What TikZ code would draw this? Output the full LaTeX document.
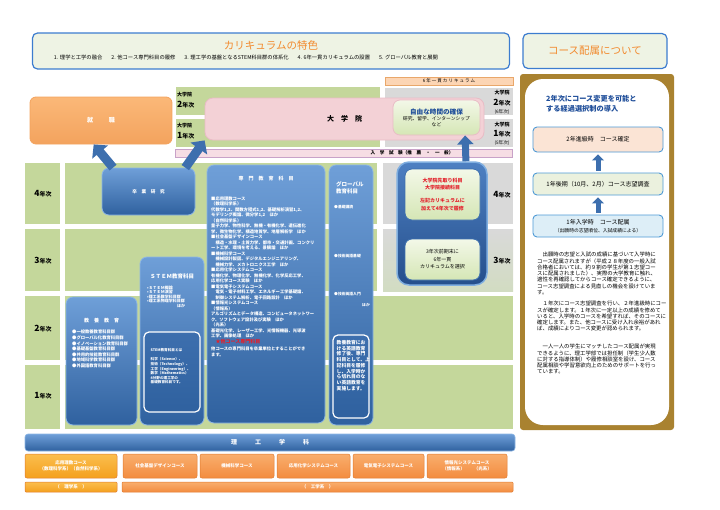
\documentclass[tikz,border=0pt]{standalone}
\usepackage{xcolor}
\usepackage{fontspec}
\setmainfont{Noto Sans CJK JP}
\usepackage{tikz}
\usetikzlibrary{shapes,arrows.meta,positioning}

\definecolor{azulA}{HTML}{6F9FD8}
\definecolor{azulB}{HTML}{2F619F}
\definecolor{azulL}{HTML}{8DB6E4}
\definecolor{azulT}{HTML}{1F4E9A}
\definecolor{azulF}{HTML}{3D6FAE}
\definecolor{verde}{HTML}{C4D79B}
\definecolor{gris}{HTML}{D9D9D9}
\definecolor{grisV}{HTML}{D2DCC2}
\definecolor{crema}{HTML}{EEF3E4}
\definecolor{borde}{HTML}{3C7CCF}
\definecolor{titulo}{HTML}{F28A2E}
\definecolor{marron}{HTML}{A98230}
\definecolor{rosa}{HTML}{F3D1D6}
\definecolor{rosaL}{HTML}{E9BCC6}
\definecolor{rosaC}{HTML}{F6DDE4}
\definecolor{lila}{HTML}{C8A2C8}
\definecolor{naranja}{HTML}{F38C3F}
\definecolor{naranjaA}{HTML}{F9AE6E}
\definecolor{naranjaD}{HTML}{E07A2E}
\definecolor{oroA}{HTML}{FBBE4E}
\definecolor{oro}{HTML}{F4A01E}
\definecolor{durazno}{HTML}{FBB878}
\definecolor{duraznoD}{HTML}{F3A35E}
\definecolor{barra}{HTML}{FCD5B4}
\definecolor{barraD}{HTML}{E9A76A}
\definecolor{verdeA}{HTML}{F3F8E8}
\definecolor{verdeB}{HTML}{D5E6B5}
\definecolor{melocoton}{HTML}{FBE4D5}
\definecolor{verdeC}{HTML}{EBF1DE}
\definecolor{celeste}{HTML}{DDEEF7}
\definecolor{pasoL}{HTML}{4E9AD6}
\definecolor{rojo}{HTML}{E3202B}
\definecolor{oscA}{HTML}{4E80C2}
\definecolor{oscB}{HTML}{254F8C}
\definecolor{oscL}{HTML}{7FAEE0}

\begin{document}
\begin{tikzpicture}[x=1pt, y=-1pt,
  every node/.style={inner sep=0pt, align=center, font=\fontsize{4.5}{5.5}\selectfont},
  caja/.style={rectangle, rounded corners=7pt, draw=azulL, line width=0.8pt,
      top color=azulA, bottom color=azulB, text=white},
  cajita/.style={rectangle, rounded corners=5pt, draw=white, line width=1.2pt,
      top color=azulF, bottom color=azulB, text=white},
  marco/.style={rectangle, rounded corners=5pt, draw=borde, line width=1.2pt, fill=crema},
  curso/.style={rectangle, rounded corners=2pt, draw=naranjaD, line width=0.5pt,
      top color=naranjaA, bottom color=naranja, text=white, font=\bfseries\fontsize{4.5}{5.5}\selectfont},
  paso/.style={rectangle, rounded corners=4pt, draw=pasoL, line width=0.9pt,
      minimum width=130pt, font=\fontsize{6}{7.5}\selectfont},
  interior/.style={rectangle, rounded corners=7pt, draw=azulF, line width=0.8pt,
      top color=verdeA, bottom color=verdeB, minimum width=75pt, font=\fontsize{5}{7.5}\selectfont},
  nivel/.style={font=\bfseries\fontsize{6}{7}\selectfont},
  blanco/.style={anchor=north west, align=left, text=white},
  flecha/.style={draw=azulF, line width=9pt, -{Triangle[width=20pt,length=10pt]}},
  flechaV/.style={draw=azulF, line width=7pt, -{Triangle[width=16pt,length=9pt]}},
  flechita/.style={draw=azulF, line width=5pt, -{Triangle[width=12pt,length=6pt]},
      shorten <=2pt, shorten >=2pt}
]
\useasboundingbox (0,0) rectangle (720,509);

% Fondo
\fill[verde] (25,163) rectangle (60,224);
\fill[verde] (25,229) rectangle (60,291);
\fill[verde] (25,296) rectangle (60,360);
\fill[verde] (25,365) rectangle (60,429);
\fill[verde] (65,163) rectangle (377,224);
\fill[verde] (65,229) rectangle (377,291);
\fill[verde] (65,296) rectangle (513,360);
\fill[verde] (65,365) rectangle (513,429);
\fill[gris] (383,163) rectangle (513,224);
\shade[top color=gris, bottom color=grisV] (383,229) rectangle (513,291);
\fill[verde] (176,87) rectangle (380,115);
\fill[verde] (176,119) rectangle (380,147);
\fill[gris] (385,88) rectangle (513,115);
\fill[gris] (385,119) rectangle (513,147);

% Cabecera
\node[marco, minimum width=477pt, minimum height=36pt] (A) at (271,51) {};
\node[font=\fontsize{10.5}{11}\selectfont, text=titulo] (A1) at (271,45) {カリキュラムの特色};
\node[font=\fontsize{5.3}{6}\selectfont] (A2) at (246,57)
  {1. 理学と工学の融合\hspace{9pt}2. 他コース専門科目の履修\hspace{9pt}3. 理工学の基盤となるSTEM科目群の体系化\hspace{9pt}4. 6年一貫カリキュラムの設置\hspace{9pt}5. グローバル教育と展開};
\node[marco, minimum width=144pt, minimum height=35pt] (B) at (595,51) {};
\node[font=\fontsize{10.5}{11}\selectfont, text=titulo] (B1) at (595,51) {コース配属について};

% Nodos: コース配属
\node[rectangle, rounded corners=3pt, fill=marron, minimum width=154pt, minimum height=356pt] (C) at (597,252) {};
\node[rectangle, rounded corners=18pt, fill=white, minimum width=144pt, minimum height=346pt] (C0) at (597,252) {};
\node[anchor=north west, align=left, text=azulT, font=\bfseries\fontsize{7.2}{10}\selectfont] (C1) at (546,95)
  {2年次にコース変更を可能と\\する経過選択制の導入};
\node[paso, fill=melocoton, minimum height=25pt] (C2) at (598,139.5) {2年進級時　コース確定};
\node[paso, fill=verdeC, minimum height=22pt] (C3) at (598,184) {1年後期（10月、2月）コース志望調査};
\node[paso, fill=celeste, minimum height=22pt] (C4) at (598,226)
  {1年入学時　コース配属\\{\fontsize{4.8}{6}\selectfont（出願時の志望順位、入試成績による）}};
\draw[flechita] (C3) -- (C2);
\draw[flechita] (C4) -- (C3);
\node[anchor=north west, align=left, font=\fontsize{5.4}{6.3}\selectfont] (C5) at (537,252)
  {　出願時の志望と入試の成績に基づいて入学時に\\
   コース配属されますが（平成２８年度の一般入試\\
   合格者においては、約９割の学生が第１志望コー\\
   スに配属されました）、実際の大学教育に触れ、\\
   適性を再確認してからコース確定できるように、\\
   コース志望調査による見直しの機会を設けていま\\
   す。};
\node[anchor=north west, align=left, font=\fontsize{5.4}{6.3}\selectfont] (C6) at (537,301)
  {　１年次にコース志望調査を行い、２年進級時にコー\\
   スが確定します。１年次に一定以上の成績を修めて\\
   いると、入学時のコースを希望すれば、そのコースに\\
   確定します。また、他コースに受け入れ余裕があれ\\
   ば、成績によりコース変更が認められます。};
\node[anchor=north west, align=left, font=\fontsize{5.4}{6.3}\selectfont] (C7) at (537,344)
  {　一人一人の学生にマッチしたコース配属が実現\\
   できるように、理工学部では担任制（学生少人数\\
   に対する指導体制）や履修相談室を設け、コース\\
   配属相談や学習意欲向上のためのサポートを行っ\\
   ています。};

% Nodos: 大学院
\node[rectangle, fill=barra, draw=barraD, line width=0.5pt, minimum width=128pt, minimum height=8pt] (D0) at (449,81)
  {6 年 一 貫 カ リ キ ュ ラ ム};
\node[anchor=west, font=\bfseries\fontsize{5}{6}\selectfont] (D1) at (177,95) {大学院};
\node[anchor=west, nivel] (D2) at (177,104.5) {{\fontsize{8.5}{9}\selectfont 2}年次};
\node[anchor=west, font=\bfseries\fontsize{5}{6}\selectfont] (D3) at (177,126) {大学院};
\node[anchor=west, nivel] (D4) at (177,135.5) {{\fontsize{8.5}{9}\selectfont 1}年次};
\node[font=\bfseries\fontsize{5}{6}\selectfont] (D5) at (502,93) {大学院};
\node[nivel] (D6) at (502,103) {{\fontsize{8.5}{9}\selectfont 2}年次};
\node[font=\fontsize{4.6}{5}\selectfont] (D7) at (502,112) {(6年次)};
\node[font=\bfseries\fontsize{5}{6}\selectfont] (D8) at (502,124.5) {大学院};
\node[nivel] (D9) at (502,134) {{\fontsize{8.5}{9}\selectfont 1}年次};
\node[font=\fontsize{4.6}{5}\selectfont] (D10) at (502,143) {(5年次)};
\node[rectangle, rounded corners=8pt, fill=rosa, draw=rosaL, line width=0.8pt,
      minimum width=279pt, minimum height=42pt, font=\bfseries\fontsize{7}{8}\selectfont] (D) at (344.5,119) {大　学　院};
\node[rectangle, rounded corners=7pt, top color=verdeA, bottom color=verdeB, draw=rosaL, line width=0.8pt,
      minimum width=87pt, minimum height=35pt, font=\fontsize{4.8}{6}\selectfont] (F) at (436.5,117.5)
  {{\color{azulT}\bfseries\fontsize{6.6}{8.5}\selectfont 自由な時間の確保}\\研究、留学、インターンシップ\\など};
\node[rectangle, fill=rosaC, draw=lila, line width=0.6pt, minimum width=337pt, minimum height=8pt] (G) at (343.5,153) {};
\node[font=\bfseries\fontsize{4.6}{5}\selectfont] (G1) at (412,153) {入　学　試　験（推　薦　・　一　般）};
\node[rectangle, rounded corners=6pt, top color=durazno, bottom color=duraznoD, draw=duraznoD, line width=0.8pt,
      minimum width=142pt, minimum height=47pt, text=white, font=\bfseries\fontsize{6}{7}\selectfont] (H) at (101,120.5)
  {就\hspace{16pt}職};

% Nodos: 学部
\node[caja, minimum width=93pt, minimum height=47pt, font=\bfseries\fontsize{4.6}{5.5}\selectfont] (K) at (148.5,191.5) {卒　業　研　究};
\node[nivel] (L1) at (43,194) {{\fontsize{8.5}{9}\selectfont 4}年次};
\node[nivel] (L2) at (43,261) {{\fontsize{8.5}{9}\selectfont 3}年次};
\node[nivel] (L3) at (43,329) {{\fontsize{8.5}{9}\selectfont 2}年次};
\node[nivel] (L4) at (43,396) {{\fontsize{8.5}{9}\selectfont 1}年次};
\node[nivel] (L5) at (502,195) {{\fontsize{8.5}{9}\selectfont 4}年次};
\node[nivel] (L6) at (502,261) {{\fontsize{8.5}{9}\selectfont 3}年次};

\node[caja, minimum width=71pt, minimum height=128pt] (M) at (101.5,361) {};
\node[below=21pt of M.north, text=white, font=\bfseries\fontsize{5}{6}\selectfont] (M1) {教　養　教　育};
\node[blanco, font=\bfseries\fontsize{4.3}{5.6}\selectfont] (M2) at (72,330)
  {●一般教養教育科目群\\●グローバル化教育科目群\\●イノベーション教育科目群\\●基礎基盤教育科目群\\●共用的技能教育科目群\\●地域科学教育科目群\\●外国語教育科目群};

\node[caja, minimum width=64pt, minimum height=168pt] (N) at (172,341) {};
\node[below=17pt of N.north, text=white, font=\bfseries\fontsize{5.5}{6}\selectfont] (N1) {ＳＴＥＭ教育科目};
\node[blanco, font=\bfseries\fontsize{4}{4.6}\selectfont] (N2) at (147,285.5)
  {•ＳＴＥＭ概論\\•ＳＴＥＭ演習\\•理工系数学科目群\\•理工系物理学科目群\\\hspace{30pt}ほか};
\node[cajita, minimum width=56pt, minimum height=80pt] (N3) at (172,372) {};
\node[blanco, font=\bfseries\fontsize{3.6}{4.6}\selectfont] (N4) at (150.5,348.5)
  {STEM教育科目とは\\[4.6pt]科学（Science）、\\技術（Technology）、\\工学（Engineering）、\\数学（Mathematics）\\4分野の理工学の\\基礎教育科目です。};

\node[caja, minimum width=118pt, minimum height=258pt] (E) at (266,294) {};
\node[below=11pt of E.north, text=white, font=\bfseries\fontsize{5}{6}\selectfont] (E1) {専　門　教　育　科　目};
\node[blanco, font=\bfseries\fontsize{4.3}{5.5}\selectfont] (E2) at (211,196.5)
  {■応用理数コース\\
   （数理科学系）\\
   代数学1,2、関数方程式1,2、基礎解析演習1,2、\\
   モデリング概論、微分学1,2\quad ほか\\
   （自然科学系）\\
   量子力学、物性科学、無機・有機化学、遺伝進化\\
   学、微生物化学、構造地質学、地層解析学\quad ほか\\
   ■社会基盤デザインコース\\
   \quad 構造・水理・土質力学、都市・交通計画、コンクリ\\
   ート工学、環境を考える、景観論\quad ほか\\
   ■機械科学コース\\
   \quad 機械設計製図、デジタルエンジニアリング、\\
   \quad 機械力学、メカトロニクス工学\quad ほか\\
   ■応用化学システムコース\\
   有機化学、物理化学、無機化学、化学反応工学、\\
   応用化学コース実験\quad ほか\\
   ■電気電子システムコース\\
   \quad 電気・電子材料工学、エネルギー工学基礎論、\\
   \quad 制御システム解析、電子回路設計\quad ほか\\
   ■情報光システムコース\\
   （情報系）\\
   アルゴリズムとデータ構造、コンピュータネットワー\\
   ク、ソフトウェア設計及び実験\quad ほか\\
   （光系）\\
   基礎光化学、レーザー工学、光情報機器、光導波\\
   工学、画像処理\quad ほか\\
   \quad{\color{rojo}\fontsize{5}{5.5}\selectfont ★他コース専門科目}\\[2pt]
   他コースの専門科目を卒業単位とすることができ\\
   ます。};

\node[caja, minimum width=44pt, minimum height=260pt] (P) at (351,295) {};
\node[blanco, font=\bfseries\fontsize{5.5}{7}\selectfont] (P1) at (336,181) {グローバル\\教育科目};
\node[anchor=west, text=white, font=\bfseries\fontsize{3.8}{4.5}\selectfont] (P2) at (334,207) {●基礎講読};
\node[anchor=west, text=white, font=\bfseries\fontsize{3.8}{4.5}\selectfont] (P3) at (334,256) {●技術英語基礎};
\node[anchor=west, text=white, font=\bfseries\fontsize{3.8}{4.5}\selectfont] (P4) at (334,294) {●技術英語入門};
\node[anchor=west, text=white, font=\bfseries\fontsize{3.8}{4.5}\selectfont] (P5) at (362,305) {ほか};
\node[cajita, minimum width=36pt, minimum height=83pt] (P6) at (351,376.5) {};
\node[blanco, font=\bfseries\fontsize{4.8}{5.75}\selectfont] (P7) at (336.5,340)
  {教養教育にお\\ける英語教育\\修了後、専門\\科目として、上\\記科目を履修\\し、入学時か\\ら切れ目のな\\い英語教育を\\実施します。};

% 6年一貫
\node[rectangle, rounded corners=12pt, top color=oscA, bottom color=oscB, draw=oscL, line width=1.5pt,
      minimum width=90pt, minimum height=123pt] (S) at (442,223.5) {};
\node[interior, minimum height=51pt, text=rojo, font=\bfseries\fontsize{5}{7.5}\selectfont] (S1) at (442.5,194.5)
  {大学院先取り科目\\大学院接続科目\\[5.5pt]左記カリキュラムに\\加えて4年次で履修};
\node[interior, minimum height=41pt] (S3) at (442.5,259.5) {3年次前期末に\\6年一貫\\カリキュラムを選択};

% Flechas
\draw[flecha] (K.146) -- (H.253);
\draw[flecha] (K.33) -- (D.south west);
\draw[flechaV] (S.69) -- (F.-32);

% 理工学科
\node[rectangle, rounded corners=3pt, top color=azulA, bottom color=azulB, draw=azulL, line width=0.6pt,
      minimum width=490pt, minimum height=17pt, text=white, font=\bfseries\fontsize{6}{7}\selectfont] (T) at (270,442.5)
  {理\hspace{18pt}工\hspace{18pt}学\hspace{18pt}科};
\node[curso, top color=oroA, bottom color=oro, minimum width=92pt, minimum height=24pt] (U1) at (71,466)
  {応用理数コース\\（数理科学系）（自然科学系）};
\node[curso, minimum width=74pt, minimum height=24pt] (U2) at (160,466) {社会基盤デザインコース};
\node[curso, minimum width=74pt, minimum height=24pt] (U3) at (237,466) {機械科学コース};
\node[curso, minimum width=73pt, minimum height=24pt] (U4) at (313.5,466) {応用化学システムコース};
\node[curso, minimum width=71pt, minimum height=24pt] (U5) at (388.5,466) {電気電子システムコース};
\node[curso, minimum width=80pt, minimum height=24pt] (U6) at (467,466) {情報光システムコース\\（情報系）　　（光系）};
\node[curso, rounded corners=1pt, top color=oroA, bottom color=oro, minimum width=92pt, minimum height=10pt] (V1) at (71,487)
  {（　理学系　）};
\node[curso, rounded corners=1pt, minimum width=391pt, minimum height=10pt] (V2) at (317.5,487) {（　工学系　）};

\end{tikzpicture}
\end{document}
